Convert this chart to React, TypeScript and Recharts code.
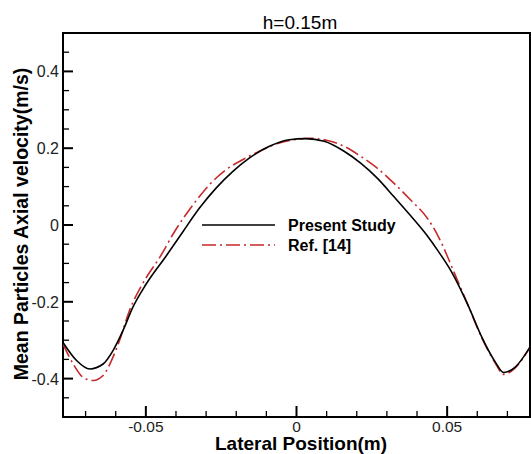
import React from 'react'
import { LineChart, Line, XAxis, YAxis, ReferenceArea, Label } from 'recharts'

// lateral position (m), mean axial velocity (m/s)
const presentStudy: [number, number][] = [
  [-0.0775, -0.306], [-0.073, -0.353], [-0.0686, -0.375], [-0.0642, -0.362],
  [-0.0609, -0.327], [-0.0576, -0.275], [-0.0543, -0.214], [-0.05, -0.155],
  [-0.0432, -0.08], [-0.0377, -0.0175], [-0.0322, 0.044], [-0.0267, 0.096],
  [-0.0212, 0.139], [-0.0157, 0.174], [-0.009, 0.205], [-0.0024, 0.222],
  [0.003, 0.225], [0.0092, 0.218], [0.0158, 0.192], [0.0213, 0.161],
  [0.0268, 0.122], [0.0323, 0.074], [0.0379, 0.024], [0.0434, -0.028],
  [0.0472, -0.07], [0.0516, -0.124], [0.0571, -0.212], [0.0615, -0.292],
  [0.066, -0.357], [0.0687, -0.384], [0.0726, -0.37], [0.0775, -0.318],
]

const refData: [number, number][] = [
  [-0.0775, -0.31], [-0.0741, -0.362], [-0.0708, -0.397], [-0.0675, -0.405],
  [-0.0642, -0.392], [-0.0609, -0.344], [-0.0587, -0.3], [-0.0554, -0.222],
  [-0.051, -0.152], [-0.0449, -0.078], [-0.0405, -0.0175], [-0.0344, 0.052],
  [-0.0289, 0.105], [-0.0234, 0.144], [-0.0179, 0.17], [-0.0123, 0.192],
  [-0.006, 0.213], [0.0, 0.223], [0.004, 0.226], [0.0103, 0.22],
  [0.0158, 0.205], [0.0213, 0.179], [0.0268, 0.148], [0.0323, 0.109],
  [0.0379, 0.065], [0.0434, 0.018], [0.0472, -0.032], [0.05, -0.08],
  [0.0516, -0.11], [0.0571, -0.212], [0.0615, -0.294], [0.066, -0.36],
  [0.0687, -0.389], [0.0726, -0.372], [0.0775, -0.318],
]

const xDomain = [-0.0775, 0.0775]
const yDomain = [-0.5, 0.5]

const xTicks = [-0.07, -0.06, -0.05, -0.04, -0.03, -0.02, -0.01, 0, 0.01, 0.02, 0.03, 0.04, 0.05, 0.06, 0.07]
const xMajorTicks = [-0.05, 0, 0.05]
const xMajorLabels = ['-0.05', '0', '0.05']

const yTicks = [-0.45, -0.4, -0.35, -0.3, -0.25, -0.2, -0.15, -0.1, -0.05, 0, 0.05, 0.1, 0.15, 0.2, 0.25, 0.3, 0.35, 0.4, 0.45]
const yMajorTicks = [-0.4, -0.2, 0, 0.2, 0.4]
const yMajorLabels = ['-0.4', '-0.2', '0', '0.2', '0.4']

const seriesNames = ['Present Study', 'Ref. [14]']
const titleText = 'h=0.15m'
const xTitle = 'Lateral Position(m)'
const yTitle = 'Mean Particles Axial velocity(m/s)'

const FONT = '"Liberation Sans", Arial, sans-serif'
const RED = '#c62a2a'
const DASH = '14 4 2 4'

const toPoints = (rows: [number, number][]) => rows.map(([x, y]) => ({ x, y }))

const majorIndex = (list: number[], v: number) => list.findIndex(m => Math.abs(m - v) < 1e-9)

function XTick(props: any) {
  const { x, y, payload } = props
  const i = majorIndex(xMajorTicks, payload.value)
  const major = i >= 0
  return (
    <g>
      <line x1={x} y1={y} x2={x} y2={y - (major ? 11 : 6)} stroke="#000" strokeWidth={major ? 2 : 1.3} />
      {major && (
        <text x={x} y={y + 15} textAnchor="middle" fontSize={15.5} fontFamily={FONT} fill="#222">
          {xMajorLabels[i]}
        </text>
      )}
    </g>
  )
}

function YTick(props: any) {
  const { x, y, payload } = props
  const i = majorIndex(yMajorTicks, payload.value)
  const major = i >= 0
  return (
    <g>
      <line x1={x} y1={y} x2={x + (major ? 10 : 6)} y2={y} stroke="#000" strokeWidth={major ? 2 : 1.3} />
      {major && (
        <text x={x - 4} y={y + 6} textAnchor="end" fontSize={16} fontFamily={FONT} fill="#222">
          {yMajorLabels[i]}
        </text>
      )}
    </g>
  )
}

function ChartLegend() {
  return (
    <svg width={220} height={44} style={{ position: 'absolute', left: 200, top: 213 }}>
      <line x1={2} y1={12} x2={75} y2={12} stroke="#000" strokeWidth={1.5} />
      <line x1={2} y1={32} x2={75} y2={32} stroke={RED} strokeWidth={1.5} strokeDasharray={DASH} />
      <text x={88} y={18} fontSize={16} fontWeight="bold" fontFamily={FONT} fill="#000">{seriesNames[0]}</text>
      <text x={88} y={38} fontSize={16} fontWeight="bold" fontFamily={FONT} fill="#000">{seriesNames[1]}</text>
    </svg>
  )
}

export default function App() {
  return (
    <div style={{ position: 'absolute', left: 0, top: 0, width: 531, height: 454, background: '#fff' }}>
      <LineChart width={531} height={454} margin={{ top: 33, right: 1, bottom: 0, left: 0 }}>
        <XAxis
          dataKey="x"
          type="number"
          domain={xDomain}
          ticks={xTicks}
          interval={0}
          allowDataOverflow
          height={37}
          axisLine={false}
          tickLine={false}
          tickSize={0}
          tickMargin={0}
          tick={<XTick />}
        >
          <Label
            content={() => (
              <g>
                <text x={301} y={450} textAnchor="middle" fontSize={19} fontWeight="bold" fontFamily={FONT} fill="#000">
                  {xTitle}
                </text>
                <text x={300} y={29} textAnchor="middle" fontSize={19} fontFamily={FONT} fill="#000">
                  {titleText}
                </text>
              </g>
            )}
          />
        </XAxis>
        <YAxis
          type="number"
          domain={yDomain}
          ticks={yTicks}
          interval={0}
          allowDataOverflow
          width={63}
          axisLine={false}
          tickLine={false}
          tickSize={0}
          tickMargin={0}
          tick={<YTick />}
        >
          <Label
            content={() => (
              <text
                x={28}
                y={224}
                transform="rotate(-90 28 224)"
                textAnchor="middle"
                fontSize={19.5}
                fontWeight="bold"
                fontFamily={FONT}
                fill="#000"
              >
                {yTitle}
              </text>
            )}
          />
        </YAxis>
        <ReferenceArea x1={xDomain[0]} x2={xDomain[1]} y1={yDomain[0]} y2={yDomain[1]} fill="none" fillOpacity={0} stroke="#000" strokeWidth={2} />
        <Line
          data={toPoints(refData)}
          dataKey="y"
          name={seriesNames[1]}
          type="monotone"
          stroke={RED}
          strokeWidth={1.6}
          strokeDasharray={DASH}
          dot={false}
          isAnimationActive={false}
        />
        <Line
          data={toPoints(presentStudy)}
          dataKey="y"
          name={seriesNames[0]}
          type="monotone"
          stroke="#000"
          strokeWidth={1.6}
          dot={false}
          isAnimationActive={false}
        />
      </LineChart>
      <ChartLegend />
    </div>
  )
}
